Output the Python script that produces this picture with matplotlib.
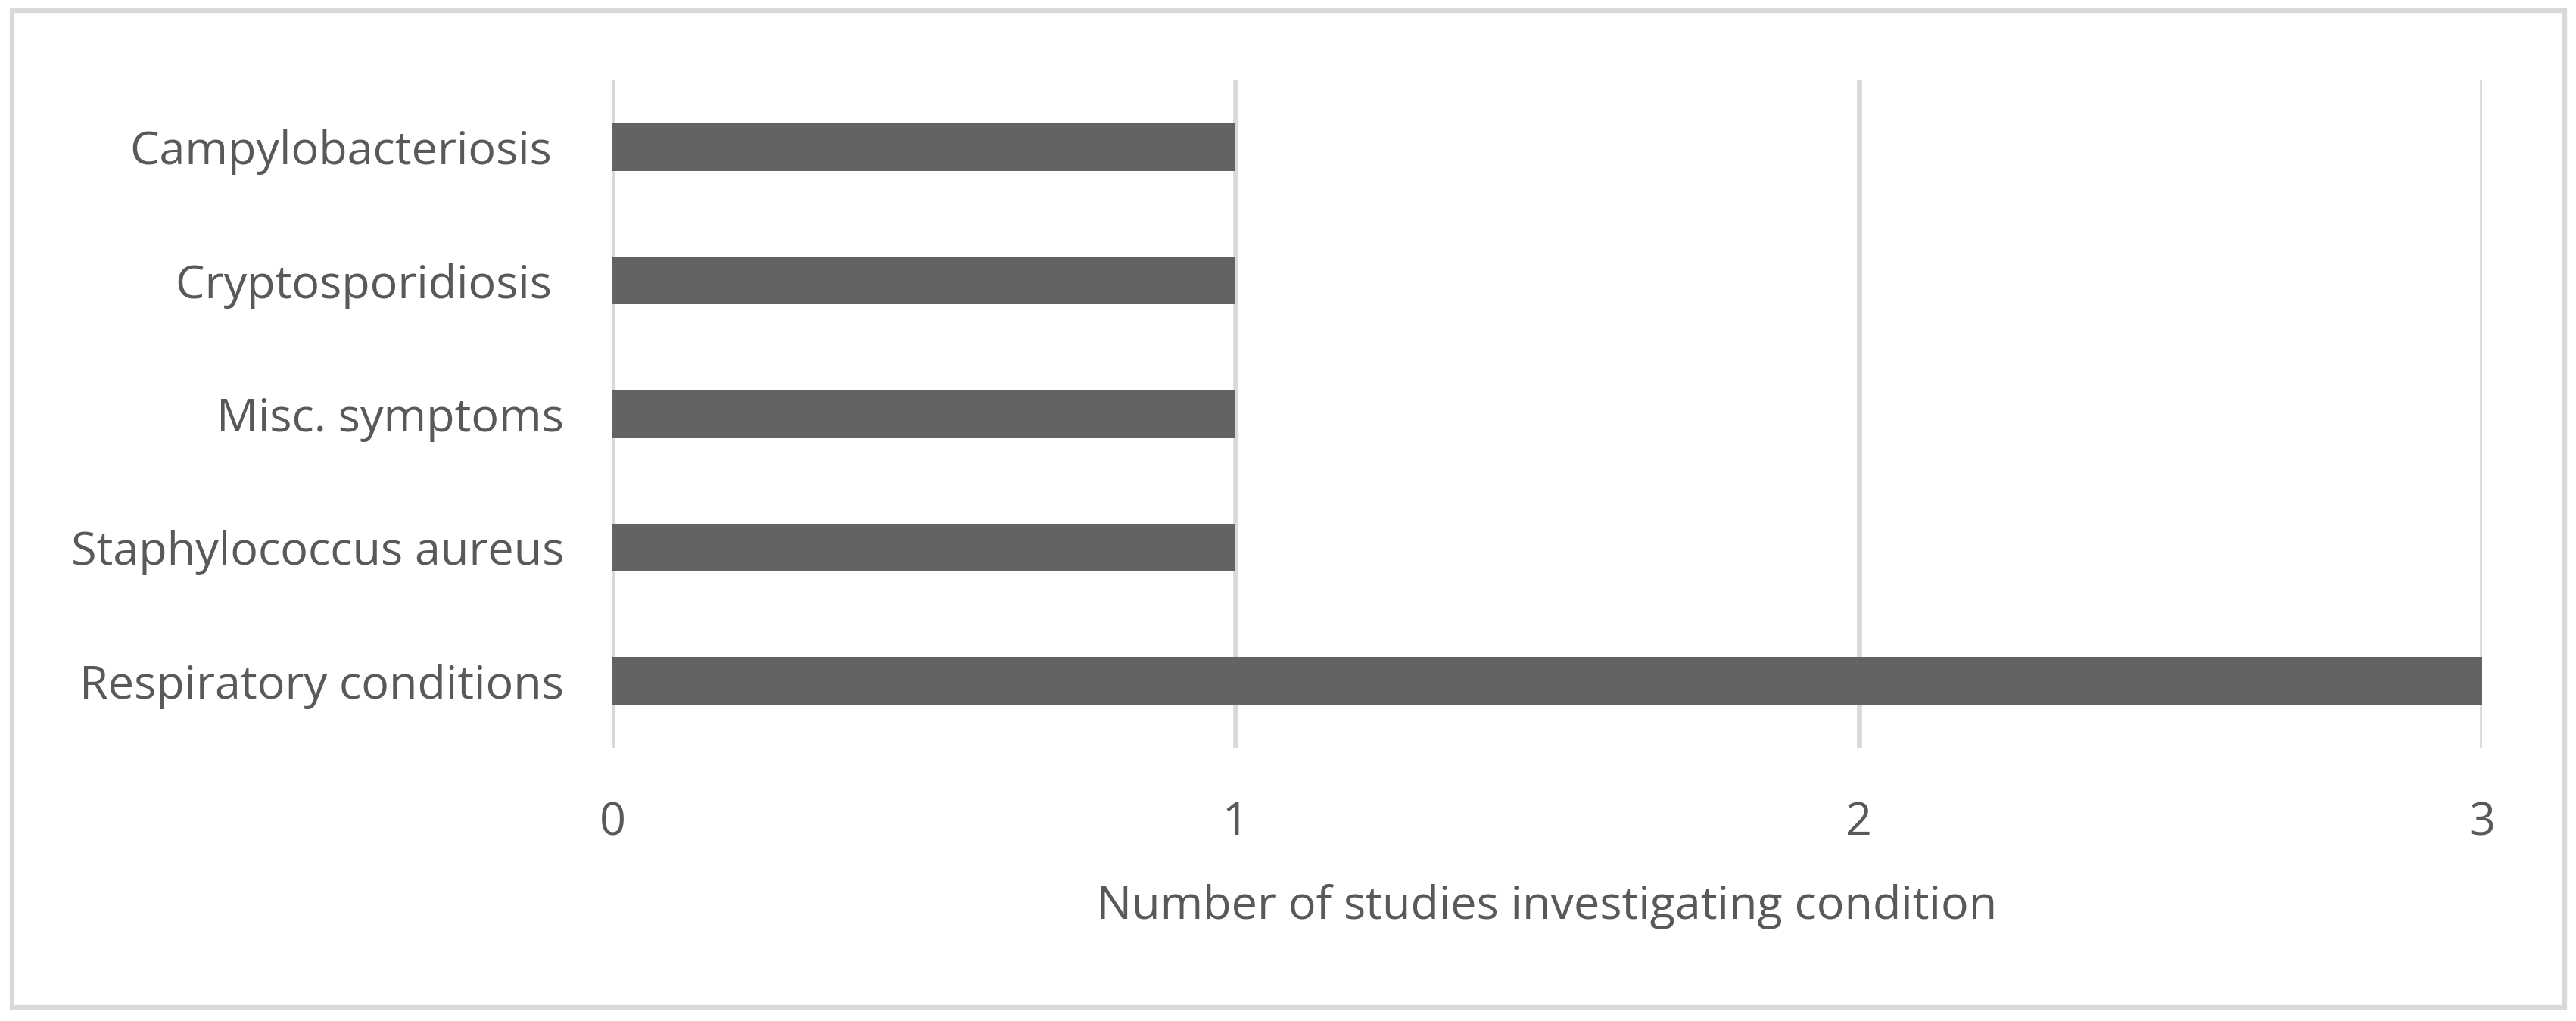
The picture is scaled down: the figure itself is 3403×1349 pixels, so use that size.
import matplotlib.pyplot as plt
from matplotlib.patches import Rectangle

# categories listed bottom to top, as in the chart
conditions = ['Respiratory conditions', 'Staphylococcus aureus', 'Misc. symptoms',
              'Cryptosporidiosis ', 'Campylobacteriosis ']
n_studies = [3, 1, 1, 1, 1]
x_ticks = [0, 1, 2, 3]

txt = '#595959'
grid_col = '#d9d9d9'
bar_col = '#636363'

plt.rcParams['font.family'] = ['Open Sans', 'DejaVu Sans']

fig = plt.figure(figsize=(34.03, 13.49), dpi=100)
ax = fig.add_axes([0.2377, 0.2676, 0.7259, 0.6538])

ax.barh(range(len(conditions)), n_studies, height=0.36, color=bar_col, zorder=3)

ax.set_xlim(0, 3)
ax.set_ylim(-0.5, len(conditions) - 0.5)
ax.set_xticks(x_ticks)
ax.set_xticklabels([str(t) for t in x_ticks])
ax.set_yticks(range(len(conditions)))
ax.set_yticklabels(conditions)

ax.tick_params(axis='both', length=0, labelsize=44, labelcolor=txt)
ax.tick_params(axis='y', pad=46)
ax.tick_params(axis='x', pad=50)
ax.xaxis.grid(True, color=grid_col, linewidth=4.8, zorder=0)
ax.set_axisbelow(True)
for s in ax.spines.values():
    s.set_visible(False)

ax.set_xlabel('Number of studies investigating condition', fontsize=44, color=txt, labelpad=36)

# outer chart border
fig.patches.append(Rectangle((16 / 3403, 1 - 1331 / 1349), (3388 - 16) / 3403, (1331 - 14) / 1349,
                             transform=fig.transFigure, fill=False, edgecolor=grid_col,
                             linewidth=4.5))

fig.savefig('out.png', dpi=100, facecolor='white')
